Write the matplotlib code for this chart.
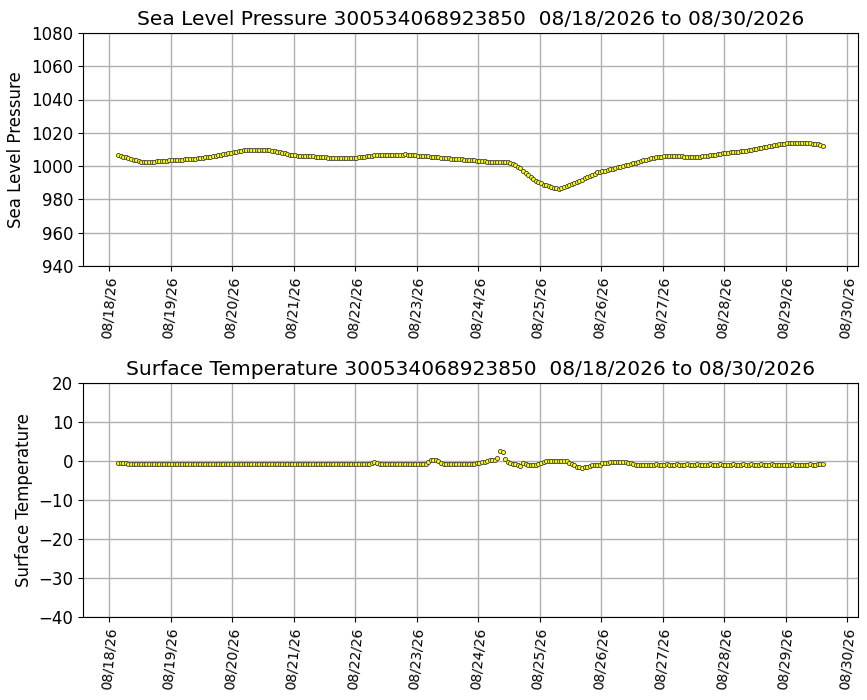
import numpy as np
import pandas as pd
import matplotlib
matplotlib.use('Agg')
import matplotlib.pyplot as plt
import matplotlib.dates as mdates

######################## buoy id and time window ########################
buoy_id = '300534068923850'
t_start = '2026-08-18 03:30'     # first hourly report
date_str = '08/18/2026 to 08/30/2026'

######################## hourly sea level pressure (hPa) ################
slp = [
    # 08/18 04h-23h
    1006.5, 1006.0, 1005.6, 1005.2, 1004.7, 1004.3, 1003.8, 1003.4, 1003.0, 1002.7,
    1002.6, 1002.6, 1002.6, 1002.7, 1002.7, 1002.8, 1002.9, 1003.0, 1003.2, 1003.3,
    # 08/19
    1003.4, 1003.6, 1003.7, 1003.8, 1003.8, 1003.9, 1004.0, 1004.1, 1004.2, 1004.4, 1004.5, 1004.7,
    1004.9, 1005.1, 1005.3, 1005.4, 1005.6, 1006.0, 1006.3, 1006.6, 1006.9, 1007.2, 1007.5, 1007.8,
    # 08/20
    1008.1, 1008.4, 1008.7, 1009.0, 1009.2, 1009.4, 1009.4, 1009.5, 1009.4, 1009.5, 1009.4, 1009.4,
    1009.5, 1009.4, 1009.4, 1009.4, 1009.3, 1009.1, 1008.7, 1008.3, 1008.0, 1007.6, 1007.2, 1006.8,
    # 08/21
    1006.5, 1006.4, 1006.3, 1006.3, 1006.2, 1006.1, 1006.1, 1006.0, 1005.9, 1005.7, 1005.6, 1005.4,
    1005.3, 1005.2, 1005.0, 1004.9, 1004.7, 1004.6, 1004.6, 1004.6, 1004.7, 1004.7, 1004.8, 1004.9,
    # 08/22
    1005.0, 1005.1, 1005.3, 1005.5, 1005.7, 1005.9, 1006.1, 1006.3, 1006.4, 1006.4, 1006.5, 1006.5,
    1006.6, 1006.6, 1006.7, 1006.7, 1006.8, 1006.8, 1006.9, 1006.9, 1007.0, 1006.9, 1006.8, 1006.6,
    # 08/23
    1006.5, 1006.3, 1006.2, 1006.0, 1005.9, 1005.8, 1005.7, 1005.6, 1005.4, 1005.3, 1005.1, 1005.0,
    1004.8, 1004.6, 1004.5, 1004.4, 1004.3, 1004.2, 1004.0, 1003.9, 1003.8, 1003.7, 1003.5, 1003.4,
    # 08/24
    1003.2, 1003.0, 1002.9, 1002.8, 1002.7, 1002.6, 1002.6, 1002.6, 1002.6, 1002.6, 1002.6, 1002.6,
    1002.4, 1002.0, 1001.5, 1000.7, 999.7, 998.6, 997.3, 996.0, 994.7, 993.5, 992.3, 991.2,
    # 08/25
    990.3, 989.6, 988.9, 988.4, 987.9, 987.4, 987.0, 986.6, 986.5, 986.8, 987.4, 988.0,
    988.6, 989.3, 989.9, 990.6, 991.3, 991.9, 992.6, 993.3, 994.0, 994.8, 995.5, 996.2,
    # 08/26
    996.5, 996.9, 997.3, 997.7, 998.1, 998.5, 998.9, 999.3, 999.7, 1000.1, 1000.5, 1000.9,
    1001.3, 1001.7, 1002.1, 1002.5, 1002.9, 1003.4, 1003.8, 1004.2, 1004.6, 1005.0, 1005.4, 1005.6,
    # 08/27
    1005.7, 1005.8, 1005.8, 1005.9, 1006.0, 1006.0, 1005.9, 1005.8, 1005.8, 1005.7, 1005.7, 1005.6,
    1005.6, 1005.6, 1005.6, 1005.6, 1005.8, 1006.0, 1006.3, 1006.5, 1006.7, 1006.9, 1007.1, 1007.4,
    # 08/28
    1007.6, 1007.8, 1008.0, 1008.2, 1008.4, 1008.6, 1008.7, 1008.9, 1009.1, 1009.3, 1009.5, 1009.8,
    1010.1, 1010.4, 1010.7, 1011.0, 1011.3, 1011.7, 1012.0, 1012.3, 1012.6, 1012.9, 1013.1, 1013.4,
    # 08/29 00h-15h
    1013.5, 1013.6, 1013.6, 1013.6, 1013.7, 1013.7, 1013.7, 1013.6, 1013.6, 1013.6, 1013.6, 1013.5,
    1013.3, 1013.0, 1012.6, 1012.1,
]

######################## hourly surface temperature (C) #################
sst = [
    # 08/18
    -0.4, -0.4, -0.4, -0.6, -0.8, -0.8, -0.8, -0.8, -0.8, -0.8,
    -0.8, -0.8, -0.8, -0.8, -0.8, -0.8, -0.8, -0.8, -0.8, -0.8,
    # 08/19
    -0.8, -0.8, -0.8, -0.8, -0.8, -0.8, -0.8, -0.8, -0.8, -0.8, -0.8, -0.8,
    -0.8, -0.8, -0.8, -0.8, -0.8, -0.8, -0.8, -0.8, -0.8, -0.8, -0.8, -0.8,
    # 08/20
    -0.8, -0.8, -0.8, -0.8, -0.8, -0.8, -0.8, -0.8, -0.8, -0.8, -0.8, -0.8,
    -0.8, -0.8, -0.8, -0.8, -0.8, -0.8, -0.8, -0.8, -0.8, -0.8, -0.8, -0.8,
    # 08/21
    -0.8, -0.8, -0.8, -0.8, -0.8, -0.8, -0.8, -0.8, -0.8, -0.8, -0.8, -0.8,
    -0.8, -0.8, -0.8, -0.8, -0.8, -0.8, -0.8, -0.8, -0.8, -0.8, -0.8, -0.8,
    # 08/22
    -0.8, -0.8, -0.8, -0.8, -0.8, -0.8, -0.8, -0.5, -0.3, -0.5, -0.8, -0.8,
    -0.8, -0.8, -0.8, -0.8, -0.8, -0.8, -0.8, -0.8, -0.8, -0.8, -0.8, -0.8,
    # 08/23
    -0.8, -0.8, -0.8, -0.8, -0.8, -0.3, 0.3, 0.2, 0.2, 0.1, -0.6, -0.8,
    -0.8, -0.8, -0.8, -0.8, -0.8, -0.8, -0.8, -0.8, -0.8, -0.8, -0.8, -0.8,
    # 08/24
    -0.6, -0.4, -0.2, -0.1, 0.0, 0.2, 0.3, 0.4, 0.7, 2.6, 2.4, 0.5,
    -0.3, -0.6, -0.7, -0.8, -1.0, -1.2, -0.4, -0.7, -1.0, -1.0, -0.9, -0.9,
    # 08/25
    -0.85, -0.6, -0.2, 0.1, 0.1, 0.1, 0.1, 0.1, 0.1, 0.1, 0.1, 0.0,
    -0.4, -0.8, -1.1, -1.4, -1.6, -1.7, -1.6, -1.5, -1.3, -1.1, -0.9, -0.9,
    # 08/26
    -1.1, -0.6, -0.5, -0.4, -0.3, -0.2, -0.2, -0.2, -0.2, -0.2, -0.3, -0.4,
    -0.5, -0.7, -0.9, -0.9, -0.9, -0.9, -1.0, -1.0, -1.0, -0.9, -0.8, -0.9,
    # 08/27
    -0.9, -1.0, -0.8, -0.9, -1.0, -0.9, -0.8, -0.9, -1.1, -0.9, -0.8, -0.9,
    -1.0, -0.9, -0.8, -0.9, -1.0, -1.1, -0.9, -0.8, -0.9, -1.0, -0.9, -0.8,
    # 08/28
    -0.9, -1.0, -1.1, -0.9, -0.8, -0.9, -1.0, -0.9, -0.8, -1.0, -0.9, -0.8,
    -0.9, -1.1, -0.9, -0.8, -0.9, -1.0, -0.9, -0.8, -0.9, -1.1, -1.0, -0.9,
    # 08/29
    -0.9, -1.0, -0.9, -0.8, -0.9, -1.0, -1.1, -0.9, -0.9, -1.0, -0.8, -0.9,
    -0.9, -0.8, -0.8, -0.8,
]

times = pd.date_range(t_start, periods=len(slp), freq='h')

######################## plot settings ##################################
fig = plt.figure(figsize=(8.67, 7.0), dpi=100)
ax1 = fig.add_axes([0.0957, 0.620, 0.894, 0.333])
ax2 = fig.add_axes([0.0957, 0.1186, 0.894, 0.334])

panels = [
    (ax1, slp, 'Sea Level Pressure', np.arange(940, 1081, 20)),
    (ax2, sst, 'Surface Temperature', np.arange(-40, 21, 10)),
]

for ax, vals, name, yt in panels:
    ax.plot(times, vals, 'o', ms=3.0, mfc='yellow', mec='0.25', mew=0.6)
    ax.set_ylim(yt[0], yt[-1])
    ax.set_yticks(yt)
    ax.set_title(name + ' ' + buoy_id + '  ' + date_str, fontsize=14.5)
    ax.set_ylabel(name, fontsize=12)
    ax.xaxis.set_major_locator(mdates.DayLocator())
    ax.xaxis.set_major_formatter(mdates.DateFormatter('%m/%d/%y'))
    ax.tick_params(axis='x', labelsize=10, labelrotation=85)
    ax.tick_params(axis='y', labelsize=12)
    ax.grid(True, color='#b0b0b0', linewidth=1)
    ax.set_axisbelow(True)

plt.savefig('out.png', dpi=100)
